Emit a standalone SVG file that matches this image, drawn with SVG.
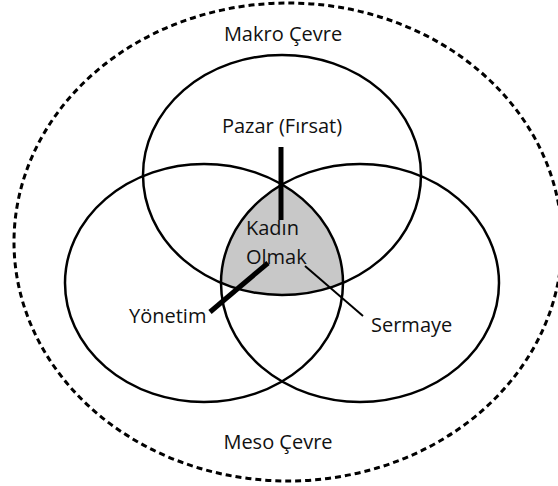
<svg xmlns="http://www.w3.org/2000/svg" width="558" height="486" viewBox="0 0 558 486">
<defs>
<style>
.c{fill:none;stroke:#000;stroke-width:2.5}
.t{font-family:"Open Sans","Liberation Sans",sans-serif;font-size:20px;fill:#111}
</style>
<clipPath id="clipL"><ellipse cx="204" cy="283" rx="139" ry="119"/></clipPath>
<clipPath id="clipR"><ellipse cx="360" cy="283" rx="139" ry="119"/></clipPath>
</defs>
<rect width="558" height="486" fill="#fff"/>
<g id="outer">
<ellipse cx="288" cy="242" rx="274" ry="239" fill="none" stroke="#000" stroke-width="3" stroke-dasharray="6 4"/>
<text class="t" x="283" y="41" text-anchor="middle">Makro Çevre</text>
<text class="t" x="278" y="449" text-anchor="middle">Meso Çevre</text>
</g>
<g id="kadin">
<g clip-path="url(#clipL)"><g clip-path="url(#clipR)"><ellipse cx="282" cy="175" rx="139" ry="120" fill="#c8c8c8"/></g></g>
</g>
<g id="pazar"><ellipse class="c" cx="282" cy="175" rx="139" ry="120"/></g>
<g id="yonetim"><ellipse class="c" cx="204" cy="283" rx="139" ry="119"/></g>
<g id="sermaye"><ellipse class="c" cx="360" cy="283" rx="139" ry="119"/></g>
<g id="connectors" stroke="#000">
<line x1="281" y1="147" x2="281" y2="220" stroke-width="5"/>
<line x1="268" y1="263" x2="210" y2="312" stroke-width="5"/>
<line x1="305" y1="266" x2="363" y2="316" stroke-width="2"/>
</g>
<g id="labels">
<text class="t" x="282" y="133" text-anchor="middle">Pazar (Fırsat)</text>
<text class="t" x="246" y="235">Kadın</text>
<text class="t" x="246" y="264">Olmak</text>
<text class="t" x="129" y="323">Yönetim</text>
<text class="t" x="371" y="332">Sermaye</text>
</g>
</svg>
